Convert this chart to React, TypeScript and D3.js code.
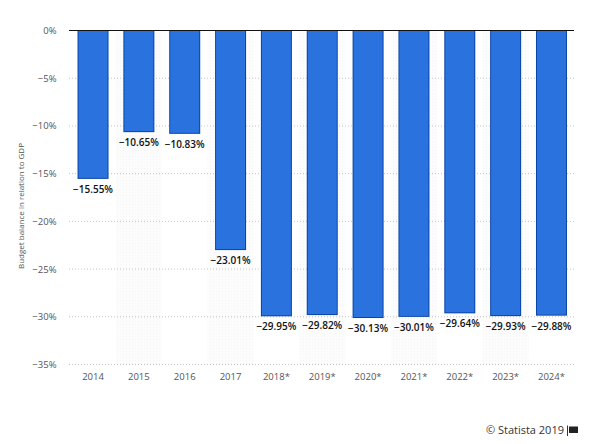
import React from "react";
import * as d3 from "d3";

const years = ["2014","2015","2016","2017","2018*","2019*","2020*","2021*","2022*","2023*","2024*"];
const balance = [-15.55,-10.65,-10.83,-23.01,-29.95,-29.82,-30.13,-30.01,-29.64,-29.93,-29.88];
const yTicks = [0,-5,-10,-15,-20,-25,-30,-35];

const W = 609, H = 444;
const FONT = "'Open Sans', sans-serif";
const fmt = (v: number) => "\u2212" + Math.abs(v).toFixed(2) + "%";
const tick = (v: number) => (v === 0 ? "0%" : "\u2212" + Math.abs(v) + "%");

export default function App() {
  const x = d3.scaleBand<string>().domain(years).range([70.1, 574.4]).paddingInner(0).paddingOuter(0);
  const y = d3.scaleLinear().domain([0, -35]).range([30.5, 364.5]);
  const barW = 31;
  return (
    <svg width={W} height={H} style={{ position: "absolute", left: 0, top: 0, background: "#fff" }}>
      <defs>
        <pattern id="dots" width="3" height="3" patternUnits="userSpaceOnUse">
          <rect width="3" height="3" fill="#fcfcfc" />
          <rect width="1" height="1" fill="#f5f5f5" />
        </pattern>
      </defs>
      {years.map((c, i) => i % 2 === 1 && (
        <rect key={c} x={x(c)!} y={y(0)} width={x.bandwidth()} height={y(-35) - y(0)} fill="url(#dots)" />
      ))}
      {yTicks.map(t => (
        <g key={t}>
          {t !== 0 && <line x1={69} x2={574} y1={y(t)} y2={y(t)} stroke="#c4c4c4" strokeWidth={1} strokeDasharray="1 2" />}
          <text x={56.5} y={y(t) + 3.5} textAnchor="end" fontFamily={FONT} fontSize={9.5} fill="#555">{tick(t)}</text>
        </g>
      ))}
      {balance.map((v, i) => {
        const cx = x(years[i])! + x.bandwidth() / 2;
        return (
          <g key={years[i]}>
            <rect x={cx - barW / 2} y={y(0)} width={barW} height={y(v) - y(0)} fill="#0a45a8" />
            <rect x={cx - barW / 2 + 1} y={y(0)} width={barW - 2} height={y(v) - y(0) - 1} fill="#2a72de" />
            <text x={cx} y={y(v) + 14} textAnchor="middle" fontFamily={FONT} fontSize={10} fontWeight={600} fill="#111">{fmt(v)}</text>
            <text x={cx} y={380} textAnchor="middle" fontFamily={FONT} fontSize={9.5} fill="#555">{years[i]}</text>
          </g>
        );
      })}
      <line x1={69} x2={574} y1={y(0)} y2={y(0)} stroke="#111" strokeWidth={1} />
      <text transform={`translate(24,206) rotate(-90)`} textAnchor="middle" fontFamily={FONT} fontSize={8} fill="#555">Budget balance in relation to GDP</text>
      <text x={564} y={434} textAnchor="end" fontFamily={FONT} fontSize={11} fill="#333">© Statista 2019</text>
      <path d="M567.5 425.5V436" stroke="#333" strokeWidth={1} fill="none" />
      <path d="M569 426.5h9v6.5h-9z" fill="#222" />
    </svg>
  );
}
